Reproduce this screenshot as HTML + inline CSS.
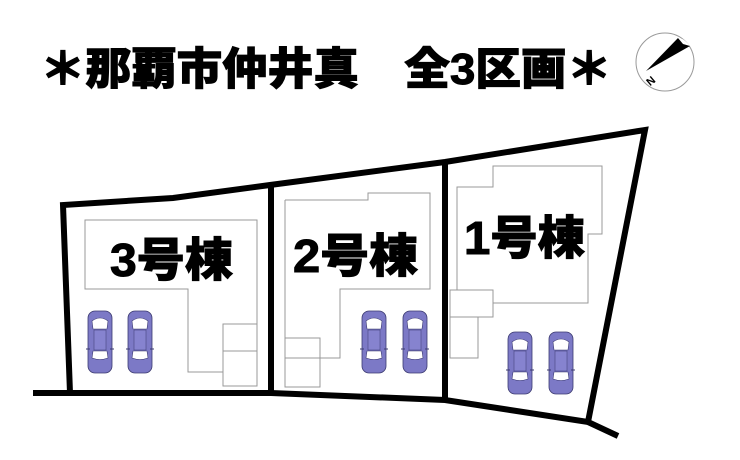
<!DOCTYPE html>
<html><head><meta charset="utf-8"><style>
html,body{margin:0;padding:0;background:#fff;}
svg{display:block;}
text{font-family:"Liberation Sans","Noto Sans CJK JP",sans-serif;font-weight:900;fill:#000;}
</style></head><body>
<svg width="740" height="460" viewBox="0 0 740 460" xmlns="http://www.w3.org/2000/svg">
<defs>
<g id="car">
<rect x="0" y="0" width="24" height="62" rx="7" fill="#7c79c6" stroke="#3b3a70" stroke-width="0.8"/>
<path d="M4 10 Q12 4 20 10 L19 18 L5 18 Z" fill="#fff" stroke="#3b3a70" stroke-width="0.6"/>
<path d="M5 40 L19 40 L20 47 Q12 50 4 47 Z" fill="#fff" stroke="#3b3a70" stroke-width="0.6"/>
<rect x="6" y="19" width="12" height="20" fill="#8683cf" stroke="#3b3a70" stroke-width="0.5"/>
<line x1="-2" y1="38" x2="2" y2="38" stroke="#3b3a70" stroke-width="1"/>
<line x1="22" y1="38" x2="26" y2="38" stroke="#3b3a70" stroke-width="1"/>
</g>
</defs>
<text x="40" y="84" font-size="44" textLength="572" lengthAdjust="spacingAndGlyphs" stroke="#000" stroke-width="1">＊那覇市仲井真　全3区画＊</text>
<circle cx="665" cy="62" r="29" fill="none" stroke="#999" stroke-width="1"/>
<path d="M646 71 L678 38 L690 46 Z" fill="#000"/>
<path d="M678 38 Q684 38 690 46 L683 44 Z" fill="#fff"/>
<text x="646" y="85" font-size="11" font-weight="400" transform="rotate(-40 650 80)">N</text>

<g fill="none" stroke="#999" stroke-width="1">
<path d="M85 220 H257 V386 H223 V372 H188 V289 H85 Z"/>
<rect x="223" y="324" width="34" height="62"/>
<line x1="223" y1="351" x2="257" y2="351"/>
<path d="M285 200 H368 V193 H430 V289 H340 V358 H320"/>
<line x1="285" y1="200" x2="285" y2="387"/>
<rect x="285" y="338" width="35" height="49"/>
<line x1="285" y1="358" x2="320" y2="358"/>
<path d="M457 187 H493 V166 H602 V234 H588 V303 H493 V290 H457 Z"/>
<rect x="450" y="290" width="43" height="27"/>
<rect x="450" y="317" width="28" height="41"/>
</g>

<g fill="none" stroke="#000" stroke-width="6" stroke-linejoin="miter">
<path d="M70 393 L63 205 L173 198 L270 185 L445 162 L645 130 L588 422 L445 400 L271 393 Z"/>
<line x1="33" y1="393" x2="271" y2="393"/>
<line x1="271" y1="185" x2="271" y2="393"/>
<line x1="445" y1="162" x2="445" y2="400"/>
<line x1="588" y1="422" x2="618" y2="436"/>
</g>

<text x="110" y="276" font-size="46" textLength="123" lengthAdjust="spacingAndGlyphs" stroke="#000" stroke-width="1">3号棟</text>
<text x="293" y="272" font-size="46" textLength="125" lengthAdjust="spacingAndGlyphs" stroke="#000" stroke-width="1">2号棟</text>
<text x="464" y="254" font-size="46" textLength="121" lengthAdjust="spacingAndGlyphs" stroke="#000" stroke-width="1">1号棟</text>

<use href="#car" x="88" y="311"/>
<use href="#car" x="128" y="311"/>
<use href="#car" x="362" y="311"/>
<use href="#car" x="403" y="311"/>
<use href="#car" x="508" y="332"/>
<use href="#car" x="549" y="332"/>
</svg>
</body></html>
